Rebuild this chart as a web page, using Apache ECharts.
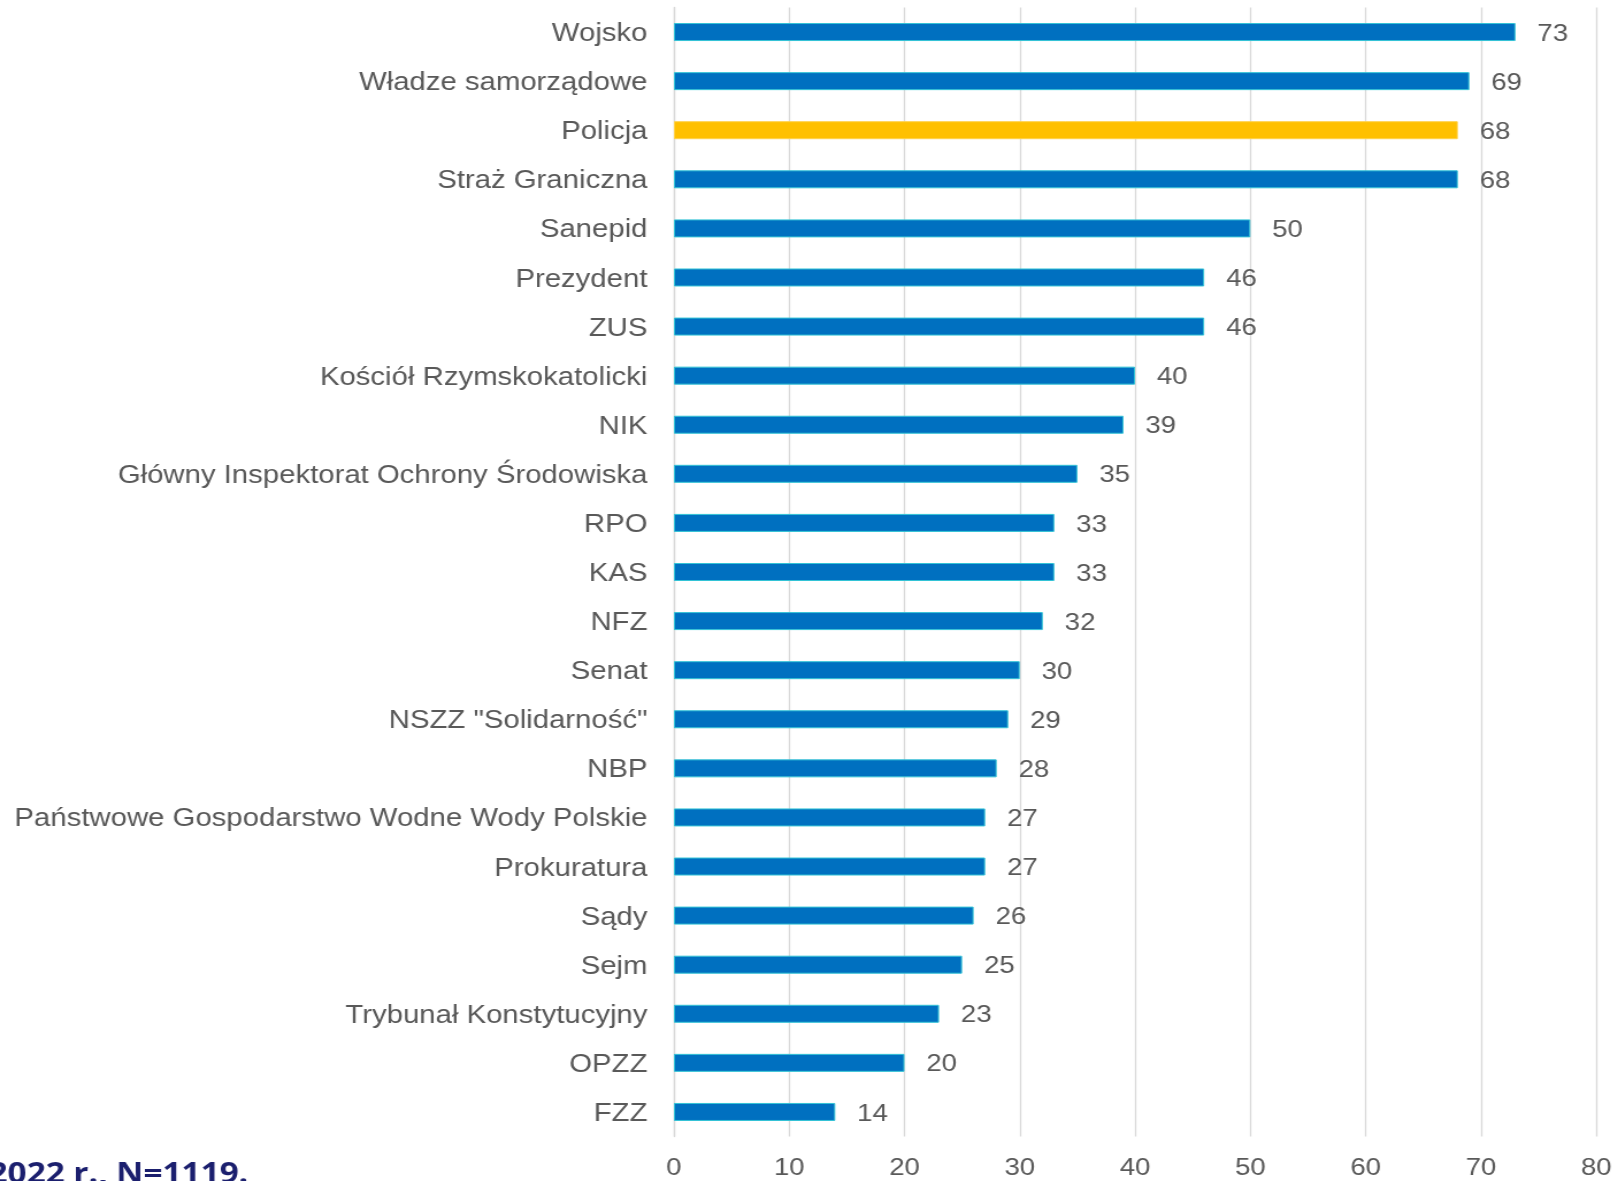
<!DOCTYPE html>
<html>
<head>
<meta charset="utf-8">
<script src="https://cdn.jsdelivr.net/npm/echarts@6/dist/echarts.min.js"></script>
<style>
html,body{margin:0;padding:0;background:#fff;overflow:hidden;}
#wrap{width:1617px;height:1181px;overflow:hidden;position:relative;}
#c{width:1406px;height:1181px;transform:scaleX(1.15);transform-origin:0 0;}
</style>
</head>
<body>
<div id="wrap"><div id="c"></div></div>
<script>
const categories = ["Wojsko","Władze samorządowe","Policja","Straż Graniczna","Sanepid","Prezydent","ZUS","Kościół Rzymskokatolicki","NIK","Główny Inspektorat Ochrony Środowiska","RPO","KAS","NFZ","Senat","NSZZ \"Solidarność\"","NBP","Państwowe Gospodarstwo Wodne Wody Polskie","Prokuratura","Sądy","Sejm","Trybunał Konstytucyjny","OPZZ","FZZ"];
const values = [73,69,68,68,50,46,46,40,39,35,33,33,32,30,29,28,27,27,26,25,23,20,14];
const highlighted = ["Policja"];
const xTicks = [0,10,20,30,40,50,60,70,80];
const footnote = "2022 r., N=1119.";

const chart = echarts.init(document.getElementById('c'), null, {renderer:'canvas'});
const data = values.map((v,i)=>({
  value: v,
  itemStyle: highlighted.includes(categories[i]) ? {color:'#FFC000', borderColor:'#FFD24A'} : {}
}));
chart.setOption({
  animation:false,
  backgroundColor:'#ffffff',
  textStyle:{fontFamily:'"Liberation Sans", Arial, sans-serif'},
  graphic:[{
    type:'text', left:-10, top:1160,
    style:{text:footnote, fill:'#1b1f6e', font:'bold 29px "Open Sans", sans-serif'}
  }],
  grid:{left:586, right:18, top:7.5, bottom:44.5, containLabel:false},
  xAxis:{
    type:'value', min:xTicks[0], max:xTicks[xTicks.length-1], interval:10,
    axisLine:{show:false}, axisTick:{show:false},
    splitLine:{show:true, lineStyle:{color:'#d9d9d9', width:1.3}},
    axisLabel:{color:'#595959', fontSize:24, margin:20}
  },
  yAxis:{
    type:'category', data:categories, inverse:true,
    axisLine:{show:true, lineStyle:{color:'#d9d9d9', width:1.3}},
    axisTick:{show:false},
    axisLabel:{
      margin:23,
      formatter: v => '{a|' + v + '}',
      rich:{a:{color:'#595959', fontSize:25.5, padding:[4,0,0,0], fontFamily:'"Liberation Sans", Arial, sans-serif'}}
    }
  },
  series:[{
    type:'bar', data:data, barWidth:18,
    itemStyle:{color:'#0070C0', borderColor:'#33c3d6', borderWidth:1},
    label:{show:true, position:'right', distance:19, color:'#595959', fontSize:24, offset:[0,2]}
  }]
});
</script>
</body>
</html>
